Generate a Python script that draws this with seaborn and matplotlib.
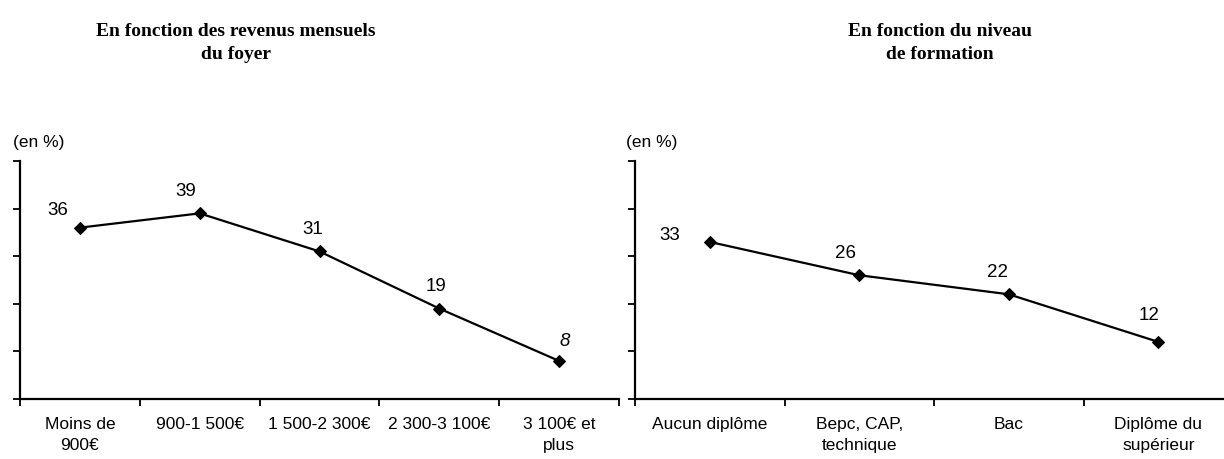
import matplotlib
matplotlib.use("Agg")
import matplotlib.pyplot as plt
import seaborn as sns
import pandas as pd
from matplotlib.ticker import FixedLocator, NullFormatter

sns.set_style("white")
plt.rcParams['font.family'] = ['Liberation Sans', 'DejaVu Sans']
plt.rcParams['text.color'] = 'black'
plt.rcParams['xtick.color'] = 'black'
plt.rcParams['ytick.color'] = 'black'
plt.rcParams['axes.labelcolor'] = 'black'

# ---- data ----
rev_categories = ["Moins de\n900€", "900-1 500€", "1 500-2 300€", "2 300-3 100€", "3 100€ et\nplus"]
rev_values = [36, 39, 31, 19, 8]
form_categories = ["Aucun diplôme", "Bepc, CAP,\ntechnique", "Bac", "Diplôme du\nsupérieur"]
form_values = [33, 26, 22, 12]
left_title = "En fonction des revenus mensuels\ndu foyer"
right_title = "En fonction du niveau\nde formation"
unit_label = "(en %)"

# label offsets (pixels) relative to each point
rev_offsets = [(-22, 18), (-14, 23), (-7, 23), (-3, 23), (6, 20)]
form_offsets = [(-40, 7), (-14, 23), (-11, 23), (-9, 27)]
rev_italic = [False, False, False, False, True]
form_italic = [False, False, False, False]

W, H = 1224, 460
fig = plt.figure(figsize=(W / 100, H / 100), dpi=100)

def make_axes(left_px, right_px):
    top_px, bottom_px = 162, 400
    return fig.add_axes([left_px / W, (H - bottom_px) / H,
                         (right_px - left_px) / W, (bottom_px - top_px) / H])

def draw(ax, cats, vals, offsets, italics):
    n = len(cats)
    df = pd.DataFrame({"x": list(range(n)), "v": vals})
    sns.lineplot(data=df, x="x", y="v", ax=ax, color="black", linewidth=1.6,
                 marker="D", markersize=6.5, markeredgecolor="black",
                 markerfacecolor="black")
    ax.set_xlim(-0.5, n - 0.5)
    ax.set_ylim(0, 50)
    ax.set_xlabel("")
    ax.set_ylabel("")
    for s in ["top", "right"]:
        ax.spines[s].set_visible(False)
    for s in ["left", "bottom"]:
        ax.spines[s].set_linewidth(1.6)
        ax.spines[s].set_color("black")
    ax.yaxis.set_major_locator(FixedLocator([0, 10, 20, 30, 40, 50]))
    ax.yaxis.set_major_formatter(NullFormatter())
    ax.tick_params(axis="y", which="major", direction="out", length=5,
                   width=1.3, color="black", left=True)
    ax.xaxis.set_major_locator(FixedLocator([i - 0.5 for i in range(n + 1)]))
    ax.xaxis.set_major_formatter(NullFormatter())
    ax.tick_params(axis="x", which="major", direction="out", length=5,
                   width=1.3, color="black", bottom=True)
    ax.set_xticks(list(range(n)), minor=True)
    ax.set_xticklabels(cats, minor=True, fontsize=12.5, linespacing=1.55,
                       color="black")
    ax.tick_params(axis="x", which="minor", length=0, pad=12)
    for i, (v, (dx, dy), it) in enumerate(zip(vals, offsets, italics)):
        ax.annotate(str(v), (i, v), xytext=(dx * 0.72, dy * 0.72),
                    textcoords="offset points", ha="center", va="center",
                    fontsize=13.5, color="black",
                    style="italic" if it else "normal")
    ax.set_facecolor("none")

ax1 = make_axes(20, 619)
draw(ax1, rev_categories, rev_values, rev_offsets, rev_italic)
ax2 = make_axes(635, 1233)
draw(ax2, form_categories, form_values, form_offsets, form_italic)

fig.text(39 / W, 1 - 142 / H, unit_label, ha="center", va="center",
         fontsize=12.5, color="black")
fig.text(652 / W, 1 - 142 / H, unit_label, ha="center", va="center",
         fontsize=12.5, color="black")

fig.text(236 / W, 1 - 43 / H, left_title, ha="center", va="center",
         fontsize=14, fontweight="bold", family="Liberation Serif",
         linespacing=1.5, color="black")
fig.text(940 / W, 1 - 43 / H, right_title, ha="center", va="center",
         fontsize=14, fontweight="bold", family="Liberation Serif",
         linespacing=1.5, color="black")

fig.savefig("out.png", dpi=100)
